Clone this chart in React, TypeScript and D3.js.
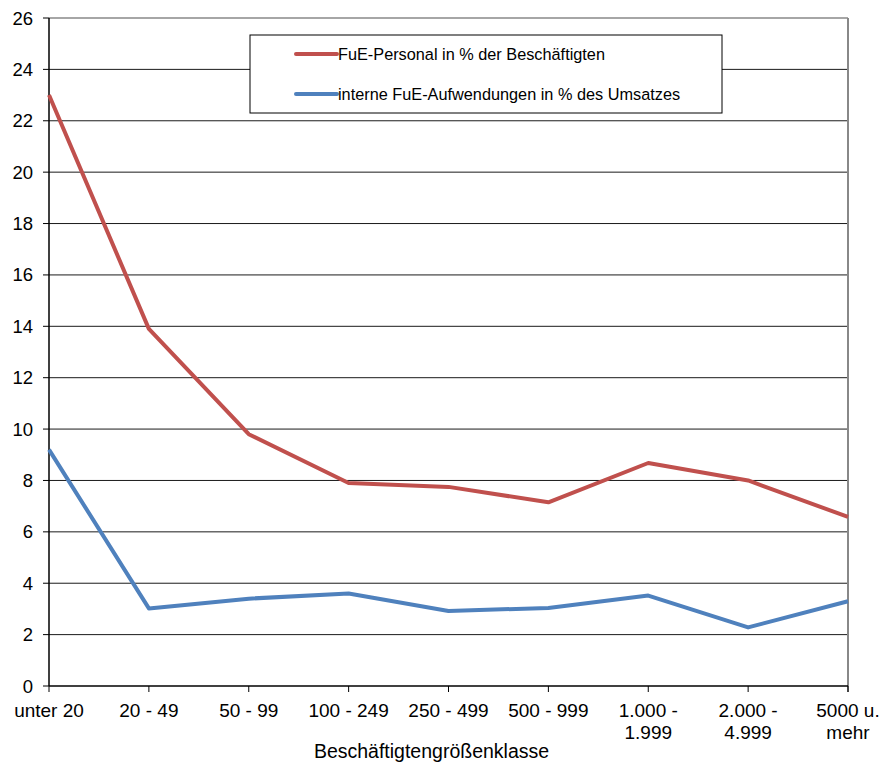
import React from "react";
import * as d3 from "d3";

const categories = ["unter 20", "20 - 49", "50 - 99", "100 - 249", "250 - 499", "500 - 999", "1.000 -\n1.999", "2.000 -\n4.999", "5000 u.\nmehr"];
const personal = [23.0, 13.9, 9.8, 7.9, 7.75, 7.15, 8.68, 8.0, 6.58];
const aufwendungen = [9.2, 3.02, 3.4, 3.6, 2.92, 3.04, 3.52, 2.28, 3.3];
const yTicks = [0, 2, 4, 6, 8, 10, 12, 14, 16, 18, 20, 22, 24, 26];
const seriesNames = ["FuE-Personal in % der Beschäftigten", "interne FuE-Aufwendungen in % des Umsatzes"];
const xTitle = "Beschäftigtengrößenklasse";

export default function App() {
  const W = 880, H = 762;
  const left = 49, right = 848, top = 18, bottom = 686;
  const x = d3.scalePoint<string>().domain(categories).range([left, right]);
  const y = d3.scaleLinear().domain([0, 26]).range([bottom, top]);
  const line = d3.line<number>().x((_, i) => x(categories[i])!).y((d) => y(d));
  const font = "'Liberation Sans', Arial, sans-serif";
  const series = [
    { name: seriesNames[0], values: personal, color: "#C0504D" },
    { name: seriesNames[1], values: aufwendungen, color: "#4F81BD" },
  ];
  return (
    <svg width={W} height={H} style={{ position: "absolute", left: 0, top: 0, background: "#fff" }} fontFamily={font}>
      {yTicks.map((t) => (
        <g key={t}>
          {t > 0 && (
            <line x1={left} x2={right} y1={y(t)} y2={y(t)} stroke={t === 26 ? "#888" : "#1a1a1a"} strokeWidth={t === 26 ? 1.5 : 1} />
          )}
          <line x1={left - 6} x2={left} y1={y(t)} y2={y(t)} stroke="#000" />
          <text x={33} y={y(t)} textAnchor="end" dominantBaseline="central" fontSize={18.5} fill="#000">{t}</text>
        </g>
      ))}
      <line x1={right} x2={right} y1={top} y2={bottom + 6} stroke="#888" strokeWidth={2} />
      <line x1={left} x2={left} y1={top} y2={bottom} stroke="#000" strokeWidth={1.5} />
      <line x1={left} x2={right} y1={bottom} y2={bottom} stroke="#000" strokeWidth={1.5} />
      {categories.map((c) => (
        <g key={c}>
          <line x1={x(c)!} x2={x(c)!} y1={bottom} y2={bottom + 6} stroke="#000" />
          {c.split("\n").map((ln, i) => (
            <text key={i} x={x(c)!} y={716.5 + i * 22.5} textAnchor="middle" fontSize={19} fill="#000">{ln}</text>
          ))}
        </g>
      ))}
      <text x={431.5} y={758} textAnchor="middle" fontSize={19.5} fill="#000">{xTitle}</text>
      {series.map((s) => (
        <path key={s.name} d={line(s.values)!} fill="none" stroke={s.color} strokeWidth={4} strokeLinejoin="round" />
      ))}
      <rect x={250} y={35} width={472} height={78} fill="#fff" stroke="#000" strokeWidth={1} />
      {series.map((s, i) => (
        <g key={s.name}>
          <line x1={296} x2={337} y1={54 + i * 40} y2={54 + i * 40} stroke={s.color} strokeWidth={4} strokeLinecap="round" />
          <text x={338} y={54 + i * 40} dominantBaseline="central" fontSize={16.3} fill="#000">{s.name}</text>
        </g>
      ))}
    </svg>
  );
}
